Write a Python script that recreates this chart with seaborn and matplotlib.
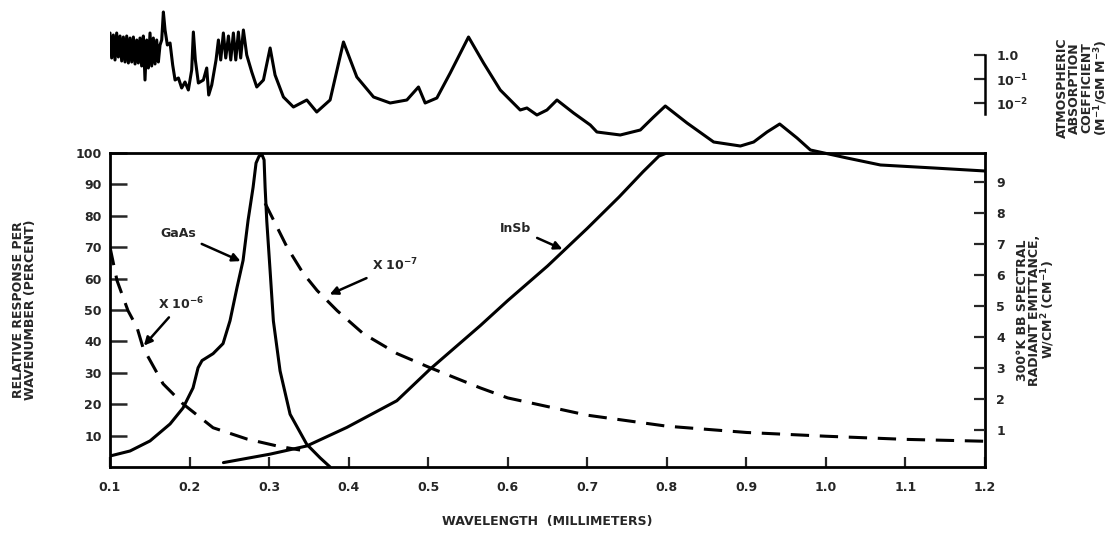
import numpy as np
import pandas as pd
import matplotlib
matplotlib.use("Agg")
import matplotlib.pyplot as plt
import seaborn as sns

# ---------------- data ----------------
# atmospheric absorption coefficient, log10 units (1.0 -> 0, 10^-1 -> -1, ...)
atm_wl = [0.1, 0.1021, 0.1042, 0.1063, 0.1084, 0.1105, 0.1126, 0.1147, 0.1168, 0.1189,
          0.1210, 0.1231, 0.1252, 0.1273, 0.1294, 0.1315, 0.1336, 0.1356, 0.1377, 0.1398,
          0.1419, 0.1440, 0.1461, 0.1482, 0.1503, 0.1524, 0.1545, 0.1566, 0.1587, 0.1608,
          0.1629, 0.1650, 0.1671, 0.1692, 0.1721, 0.1755, 0.1788, 0.1818, 0.1860, 0.1901,
          0.1943, 0.1985, 0.2027, 0.2048, 0.2073, 0.2111, 0.2174, 0.2216, 0.2241, 0.2279,
          0.2333, 0.2363, 0.2392, 0.2425, 0.2455, 0.2489, 0.2518, 0.2551, 0.2581, 0.2614,
          0.2643, 0.2677, 0.2719, 0.2782, 0.2845, 0.2929, 0.3013, 0.3075, 0.3180, 0.3306,
          0.3474, 0.3599, 0.3767, 0.3935, 0.4103, 0.4313, 0.4522, 0.4732, 0.4878, 0.4962,
          0.5109, 0.5277, 0.5507, 0.5696, 0.5906, 0.6157, 0.6241, 0.6367, 0.6493, 0.6619,
          0.6828, 0.7038, 0.7121, 0.7415, 0.7667, 0.7834, 0.7981, 0.8254, 0.8589, 0.8925,
          0.9092, 0.9260, 0.9419, 0.9637, 0.9805, 1.0266, 1.0686, 1.1356, 1.2]
atm_log = [0.917, -0.125, 0.833, -0.208, 0.917, -0.083, 0.792, -0.25, 0.75, -0.292,
           0.792, -0.333, 0.708, -0.292, 0.75, -0.375, 0.625, -0.333, 0.708, -0.458,
           0.792, -1.042, 0.625, -0.542, 0.917, -0.458, 0.708, -0.375, 0.625, -0.292,
           0.417, 0.625, 1.792, 1.042, 0.417, 0.5, -0.417, -1.042, -0.958, -1.375,
           -1.125, -1.458, -0.625, 0.958, -0.208, -1.167, -1.042, -0.542, -1.667, -1.25,
           -0.208, 0.625, -0.208, 0.917, -0.125, 0.792, -0.208, 0.917, -0.208, 0.958,
           -0.125, 1.042, 0.0, -0.708, -1.333, -1.042, 0.292, -0.833, -1.75, -2.167,
           -1.875, -2.375, -1.875, 0.542, -0.917, -1.75, -2.0, -1.875, -1.333, -2.0,
           -1.792, -0.75, 0.75, -0.333, -1.458, -2.292, -2.208, -2.5, -2.292, -1.875,
           -2.417, -2.917, -3.208, -3.333, -3.125, -2.583, -2.125, -2.833, -3.625, -3.792,
           -3.625, -3.208, -2.875, -3.458, -3.958, -4.292, -4.583, -4.708, -4.833]

# relative response (percent)
gaas_wl = [0.1, 0.1252, 0.1503, 0.1755, 0.1918, 0.2044, 0.2107, 0.2157, 0.2296, 0.2421,
           0.2509, 0.2597, 0.2673, 0.2736, 0.2799, 0.2836, 0.2874, 0.2912, 0.2937, 0.2950,
           0.2971, 0.3013, 0.3054, 0.3138, 0.3264, 0.3474, 0.3642, 0.3767]
gaas_resp = [3.5, 5.1, 8.3, 13.7, 18.8, 25.2, 31.6, 33.9, 36.1, 39.3,
             46.6, 57.2, 65.8, 78.6, 89.1, 96.8, 99.0, 99.4, 97.8, 89.0,
             78.3, 62.4, 46.5, 30.6, 16.8, 7.2, 2.9, 0.0]

insb_wl = [0.2426, 0.3013, 0.3474, 0.3977, 0.4606, 0.5025, 0.5654, 0.60, 0.65, 0.70,
           0.74, 0.77, 0.79, 0.80, 1.2]
insb_resp = [1.4, 4.1, 6.7, 12.6, 21.1, 31.2, 45.0, 53.0, 64.0, 76.0,
             86.0, 94.0, 99.0, 100.0, 100.0]

# 300 K blackbody spectral emittance (plotted in left-axis units)
bb6_wl = [0.1, 0.1088, 0.1226, 0.134, 0.1415, 0.1667, 0.1918, 0.2296, 0.2723, 0.31, 0.339]
bb6_val = [70.0, 59.4, 49.8, 44.4, 38.0, 26.5, 20.1, 12.5, 8.9, 6.7, 5.4]

bb7_wl = [0.295, 0.31, 0.3226, 0.3428, 0.3604, 0.3855, 0.4182, 0.461, 0.5025, 0.5654,
          0.6, 0.7, 0.8, 0.9, 1.0, 1.1, 1.2]
bb7_val = [84.0, 76.4, 70.0, 61.7, 56.2, 49.8, 42.5, 36.1, 31.6, 25.2,
           22.0, 16.5, 13.0, 11.0, 9.8, 8.8, 8.2]

x_ticks = [0.1, 0.2, 0.3, 0.4, 0.5, 0.6, 0.7, 0.8, 0.9, 1.0, 1.1, 1.2]
x_labels = ["0.1", "0.2", "0.3", "0.4", "0.5", "0.6", "0.7", "0.8", "0.9", "1.0", "1.1", "1.2"]
left_ticks = [10, 20, 30, 40, 50, 60, 70, 80, 90, 100]
right_ticks = [1, 2, 3, 4, 5, 6, 7, 8, 9]
atm_ticks = [0, -1, -2]
atm_labels = ["1.0", "10$^{-1}$", "10$^{-2}$"]

# ---------------- figure ----------------
sns.set_theme(style="white")
plt.rcParams["font.family"] = ["DejaVu Sans"]
plt.rcParams["font.weight"] = "bold"
FS = 9

W, H = 1115, 534
fig = plt.figure(figsize=(W / 100, H / 100), dpi=100)

L, R, T, B = 110, 985, 153, 467
ax = fig.add_axes([L / W, 1 - B / H, (R - L) / W, (B - T) / H])
ax.set_xlim(0.1, 1.2)
ax.set_ylim(0, 100)

for s in ax.spines.values():
    s.set_linewidth(2.0)
    s.set_color("black")
ax.spines["right"].set_visible(True)
ax.spines["top"].set_visible(True)

kw = dict(color="black", linewidth=2.2, estimator=None, sort=False, legend=False)
sns.lineplot(x=gaas_wl, y=gaas_resp, ax=ax, **kw)
sns.lineplot(x=insb_wl, y=insb_resp, ax=ax, **kw)
sns.lineplot(x=bb6_wl, y=bb6_val, ax=ax, **kw)
ax.lines[-1].set_dashes([6, 3.5])
sns.lineplot(x=bb7_wl, y=bb7_val, ax=ax, **kw)
ax.lines[-1].set_dashes([6, 3.5])

ax.set_xticks(x_ticks)
ax.set_xticklabels(x_labels, fontsize=FS, fontweight="bold")
ax.set_yticks(left_ticks)
ax.set_yticklabels([str(v) for v in left_ticks], fontsize=FS, fontweight="bold")
ax.tick_params(axis="y", direction="in", length=12, width=1.8, pad=6, left=True)
ax.tick_params(axis="x", direction="in", length=7, width=1.6, pad=10, bottom=True)
ax.set_xlabel("WAVELENGTH  (MILLIMETERS)", fontsize=FS, fontweight="bold", labelpad=15)
ax.set_ylabel("RELATIVE RESPONSE PER\nWAVENUMBER (PERCENT)", fontsize=FS,
              fontweight="bold", labelpad=28, linespacing=0.9)

ax2 = ax.twinx()
ax2.set_ylim(-0.194, 9.935)
ax2.set_yticks(right_ticks)
ax2.set_yticklabels([str(v) for v in right_ticks], fontsize=FS, fontweight="bold")
ax2.tick_params(axis="y", direction="in", length=8, width=1.6, pad=8, right=True)
for s in ax2.spines.values():
    s.set_visible(False)
ax2.set_ylabel("300°K BB SPECTRAL\nRADIANT EMITTANCE,\nW/CM$^2$ (CM$^{-1}$)", fontsize=FS,
               fontweight="bold", labelpad=8, linespacing=0.9)

# annotations
arr = dict(arrowstyle="-|>", color="black", lw=1.8, mutation_scale=12)
ax.annotate("GaAs", xy=(0.2673, 65.2), xytext=(0.1855, 74.4), fontsize=FS,
            fontweight="bold", ha="center", va="center", arrowprops=arr)
ax.annotate("X 10$^{-6}$", xy=(0.1403, 38.0), xytext=(0.1893, 52.0), fontsize=FS,
            fontweight="bold", ha="center", va="center", arrowprops=arr)
ax.annotate("X 10$^{-7}$", xy=(0.373, 54.6), xytext=(0.4585, 64.2), fontsize=FS,
            fontweight="bold", ha="center", va="center", arrowprops=arr)
ax.annotate("InSb", xy=(0.672, 69.0), xytext=(0.61, 76.0), fontsize=FS,
            fontweight="bold", ha="center", va="center", arrowprops=arr)

# ---------------- atmospheric absorption panel ----------------
TB = 180
axt = fig.add_axes([L / W, 1 - TB / H, (R - L) / W, TB / H])
axt.patch.set_alpha(0)
axt.set_xlim(0.1, 1.2)
axt.set_ylim(-125 / 24, 55 / 24)
sns.lineplot(x=atm_wl, y=atm_log, ax=axt, color="black", linewidth=2.2,
             estimator=None, sort=False, legend=False)
for side in ["left", "top", "bottom"]:
    axt.spines[side].set_visible(False)
axt.spines["right"].set_visible(True)
axt.spines["right"].set_linewidth(1.8)
axt.spines["right"].set_color("black")
axt.spines["right"].set_bounds(-2.45, 0)
axt.set_xticks([])
axt.yaxis.tick_right()
axt.set_yticks(atm_ticks)
axt.set_yticklabels(atm_labels, fontsize=FS, fontweight="bold")
axt.tick_params(axis="y", direction="in", length=8, width=1.6, pad=8)
axt.set_xlabel("")
axt.set_ylabel("")

fig.text(1083 / W, 1 - 88 / H, "ATMOSPHERIC\nABSORPTION\nCOEFFICIENT\n(M$^{-1}$/GM M$^{-3}$)",
         rotation=90, fontsize=FS, fontweight="bold", ha="center", va="center",
         linespacing=0.9)

fig.savefig("out.png", dpi=100)
